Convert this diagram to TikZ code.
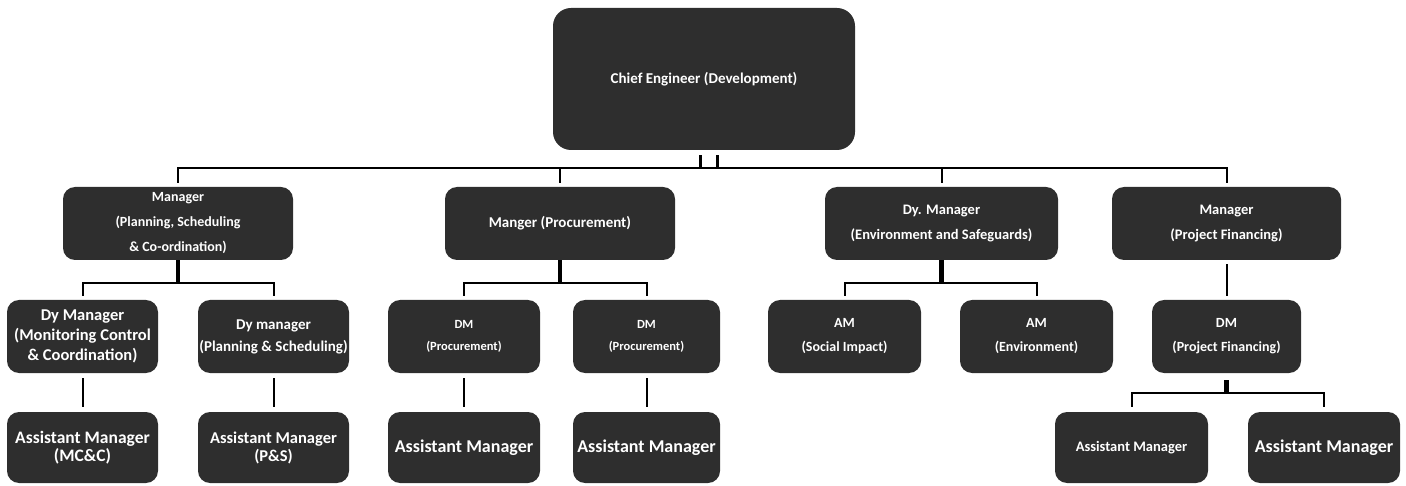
\documentclass[tikz,border=0pt]{standalone}
\usepackage{fontspec}
\setmainfont{Carlito}
\usepackage{tikz}
\newcommand{\orgfont}[2]{\fontsize{#1}{#2}\selectfont\bfseries}
\tikzstyle{orgbox} = [rectangle, rounded corners=12pt, inner sep=0pt, text centered, align=center, fill=black!82, text=white, font=\orgfont{15}{18}]
\tikzstyle{chiefbox} = [orgbox, rounded corners=18pt, minimum width=302pt, minimum height=142pt]
\tikzstyle{mgrbox} = [orgbox, minimum width=230pt, minimum height=73pt]
\tikzstyle{subbox} = [orgbox, minimum width=151pt, minimum height=73pt]
\tikzstyle{asstbox} = [orgbox, minimum width=151pt, minimum height=71pt]
\tikzstyle{line} = [line width=2pt]
\tikzstyle{stub} = [line width=4.5pt]

\begin{document}
\begin{tikzpicture}[x=1pt, y=1pt, node distance = 111pt]
\useasboundingbox (0,0) rectangle (1406,-486);

\node(chief) [chiefbox] at (704,-79) {Chief Engineer (Development)};

\node(mgrPSC)  [mgrbox, below of = chief, xshift=-526pt, yshift=-33.5pt, font=\orgfont{14}{25}] {Manager\\(Planning, Scheduling\\\& Co-ordination)};
\node(mgrProc) [mgrbox, below of = chief, xshift=-144pt, yshift=-33.5pt] {Manger (Procurement)};
\node(mgrEnv)  [mgrbox, below of = chief, xshift=237.5pt, yshift=-33.5pt, minimum width=233pt, font=\orgfont{14.5}{25}] {Dy. Manager\\(Environment and Safeguards)};
\node(mgrFin)  [mgrbox, below of = chief, xshift=522.5pt, yshift=-33.5pt, minimum width=229pt, font=\orgfont{14.5}{25}] {Manager\\(Project Financing)};

\node(dyMC)     [subbox, below of = mgrPSC, xshift=-95.5pt, yshift=-2pt, font=\orgfont{16.5}{20}] {Dy Manager\\(Monitoring Control\\\& Coordination)};
\node(dyPS)     [subbox, below of = mgrPSC, xshift=95.5pt, yshift=-2pt, font=\orgfont{15}{22}] {Dy manager\\(Planning \& Scheduling)};
\node(dmProcA)  [subbox, below of = mgrProc, xshift=-96pt, yshift=-2pt, minimum width=152pt, font=\orgfont{12.5}{22}] {DM\\(Procurement)};
\node(dmProcB)  [subbox, below of = mgrProc, xshift=86.5pt, yshift=-2pt, minimum width=147pt, font=\orgfont{12.5}{22}] {DM\\(Procurement)};
\node(amSoc)    [subbox, below of = mgrEnv, xshift=-97pt, yshift=-2pt, minimum width=153pt, font=\orgfont{14}{24}] {AM\\(Social Impact)};
\node(amEnv)    [subbox, below of = mgrEnv, xshift=95pt, yshift=-2pt, minimum width=153pt, font=\orgfont{14}{24}] {AM\\(Environment)};
\node(dmFin)    [subbox, below of = mgrFin, yshift=-2pt, minimum width=149pt, font=\orgfont{14}{24}] {DM\\(Project Financing)};

\node(asstMC)    [asstbox, below of = dyMC, font=\orgfont{17.5}{18}] {Assistant Manager\\(MC\&C)};
\node(asstPS)    [asstbox, below of = dyPS, font=\orgfont{16.5}{18}] {Assistant Manager\\(P\&S)};
\node(asstProcA) [asstbox, below of = dmProcA, minimum width=152pt, font=\orgfont{18}{20}] {Assistant Manager};
\node(asstProcB) [asstbox, below of = dmProcB, minimum width=147pt, font=\orgfont{18}{20}] {Assistant Manager};
\node(asstFinA)  [asstbox, below of = dmFin, xshift=-95pt, minimum width=153pt, font=\orgfont{14.5}{20}] {Assistant Manager};
\node(asstFinB)  [asstbox, below of = dmFin, xshift=97.5pt, minimum width=152pt, font=\orgfont{18}{20}] {Assistant Manager};

% chief to the bus
\draw [line, line width=3pt] ([xshift=-4pt, yshift=-5pt]chief.south) -- ++(0,-13);
\draw [line, line width=3pt] ([xshift=13pt, yshift=-5pt]chief.south) -- ++(0,-13);
\draw [line] ([yshift=4pt]mgrPSC.north) -- ++(0,15) -| ([yshift=4pt]mgrFin.north);
\draw [line] ([yshift=4pt]mgrProc.north) -- ++(0,15);
\draw [line] ([yshift=4pt]mgrEnv.north) -- ++(0,15);

% managers to deputies
\draw [stub] (mgrPSC.south) -- ++(0,-23);
\draw [line] ([yshift=4pt]dyMC.north) -- ++(0,13) -| ([yshift=4pt]dyPS.north);
\draw [stub] (mgrProc.south) -- ++(0,-22);
\draw [line] ([yshift=4pt]dmProcA.north) -- ++(0,13) -| ([yshift=4pt]dmProcB.north);
\draw [stub] (mgrEnv.south) -- ++(0,-22);
\draw [line] ([yshift=4pt]amSoc.north) -- ++(0,13) -| ([yshift=4pt]amEnv.north);
\draw [line] ([yshift=-4pt]mgrFin.south) -- ([yshift=4pt]dmFin.north);

% deputies to assistants
\draw [line] ([yshift=-5pt]dyMC.south) -- ([yshift=5pt]asstMC.north);
\draw [line] ([yshift=-5pt]dyPS.south) -- ([yshift=5pt]asstPS.north);
\draw [line] ([yshift=-5pt]dmProcA.south) -- ([yshift=5pt]asstProcA.north);
\draw [line] ([yshift=-5pt]dmProcB.south) -- ([yshift=5pt]asstProcB.north);
\draw [stub] ([yshift=-7pt]dmFin.south) -- ++(0,-13);
\draw [line] ([yshift=5pt]asstFinA.north) -- ++(0,14) -| ([yshift=5pt]asstFinB.north);

\end{tikzpicture}
\end{document}
